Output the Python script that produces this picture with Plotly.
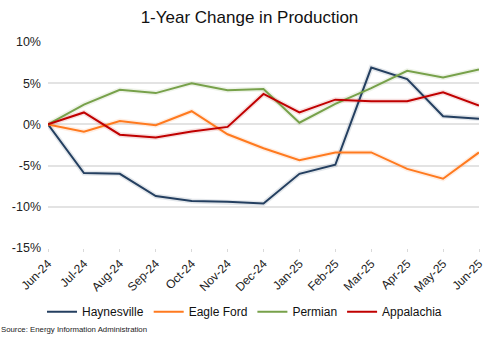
import plotly.graph_objects as go

months = ["Jun-24", "Jul-24", "Aug-24", "Sep-24", "Oct-24", "Nov-24", "Dec-24",
          "Jan-25", "Feb-25", "Mar-25", "Apr-25", "May-25", "Jun-25"]

haynesville = [0.0, -5.9, -6.0, -8.7, -9.3, -9.4, -9.6, -6.0, -4.9, 6.9, 5.5, 1.0, 0.7]
eagle_ford = [0.0, -0.9, 0.4, -0.1, 1.6, -1.2, -2.9, -4.35, -3.4, -3.4, -5.4, -6.6, -3.4]
permian = [0.0, 2.4, 4.2, 3.8, 5.0, 4.15, 4.3, 0.2, 2.5, 4.4, 6.5, 5.7, 6.65]
appalachia = [0.0, 1.45, -1.25, -1.6, -0.85, -0.3, 3.7, 1.45, 3.0, 2.8, 2.8, 3.9, 2.3]

y_ticks = [10, 5, 0, -5, -10, -15]
y_tick_labels = ["10%", "5%", "0%", "-5%", "-10%", "-15%"]

series = [
    ("Haynesville", haynesville, "#243F60"),
    ("Eagle Ford", eagle_ford, "#FF7A1F"),
    ("Permian", permian, "#77A14A"),
    ("Appalachia", appalachia, "#C00000"),
]

fig = go.Figure()

# soft halo under each line
for name, vals, color in series:
    fig.add_trace(go.Scatter(
        x=months, y=vals, mode="lines", showlegend=False, hoverinfo="skip",
        line=dict(color=color, width=5), opacity=0.12,
    ))

for name, vals, color in series:
    fig.add_trace(go.Scatter(
        x=months, y=vals, mode="lines", name=name,
        line=dict(color=color, width=2),
    ))

fig.update_layout(
    width=499, height=340,
    margin=dict(l=48, r=20, t=42, b=92, autoexpand=False),
    paper_bgcolor="white", plot_bgcolor="white",
    font=dict(family="Liberation Sans, Arial, sans-serif", color="#222222", size=12),
    title=dict(text="1-Year Change in Production", x=0.5, xanchor="center",
               y=0.95, yanchor="middle", font=dict(size=17, color="#111111")),
    showlegend=True,
    legend=dict(orientation="h", xref="container", yref="container",
                x=0.49, xanchor="center", y=0.083, yanchor="middle",
                font=dict(size=12, color="#111111"), itemwidth=30,
                tracegroupgap=0, bgcolor="rgba(0,0,0,0)"),
    annotations=[dict(text="Source: Energy Information Administration",
                      xref="paper", yref="paper", x=-0.113, y=-0.398,
                      xanchor="left", yanchor="middle", showarrow=False,
                      font=dict(size=7.8, color="#222222"))],
)

fig.update_xaxes(
    type="category", tickangle=-45, showgrid=False, showline=False,
    ticks="outside", ticklen=3, tickcolor="#D9D9D9", automargin=False,
    tickfont=dict(size=12, color="#222222"), range=[0, 12],
)
fig.update_yaxes(
    range=[-15, 10], tickvals=y_ticks, ticktext=y_tick_labels, automargin=False,
    showgrid=True, gridcolor="#E3E3E3", gridwidth=1.5, zeroline=True,
    zerolinecolor="#E3E3E3", zerolinewidth=1.5, showline=False,
    tickfont=dict(size=12.5, color="#222222"), ticks="", ticklabelstandoff=6,
)

fig.write_html("out.html")
